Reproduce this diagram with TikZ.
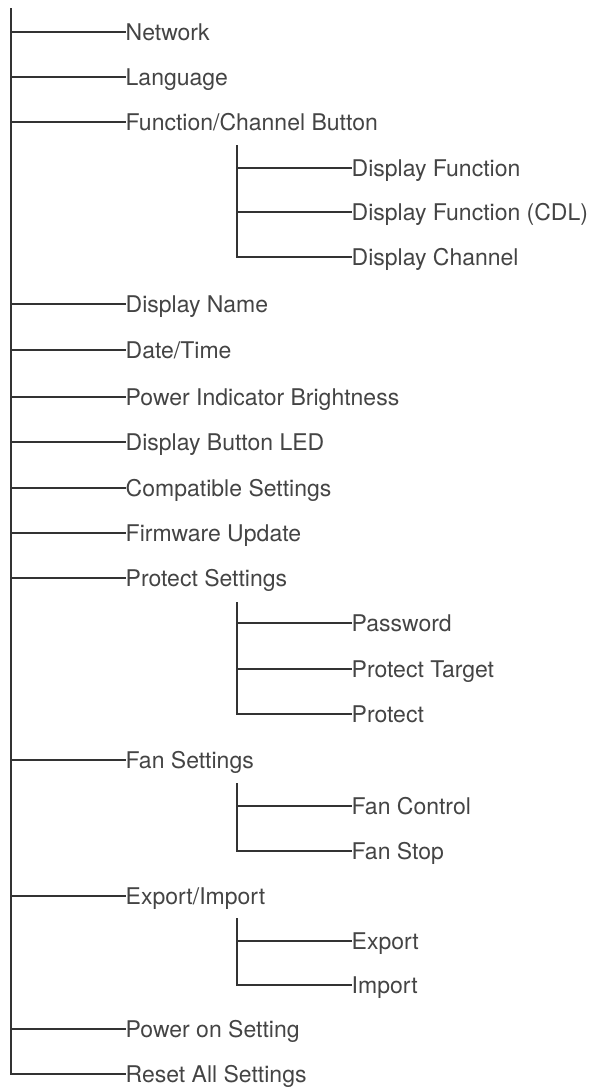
\documentclass[tikz,border=0pt]{standalone}
\usepackage{fontspec}
\setmainfont{TeX Gyre Heros}
\definecolor{ln}{HTML}{333333}
\definecolor{txt}{HTML}{444444}
\tikzset{
  lbl/.style={anchor=west, inner sep=0pt, text height=16.5pt, text depth=0pt,
    text=txt, font=\fontsize{23}{27}\selectfont},
  br/.style={draw=ln, line width=1.2pt}
}
\begin{document}
\begin{tikzpicture}[x=1pt,y=-1pt]
\useasboundingbox (0,0) rectangle (589,1088);
% root trunk
\coordinate (root) at (11,8);
\node[lbl] (network) at (125.5,32) {Network};
\node[lbl] (language) at (125.5,77) {Language};
\node[lbl] (fcb) at (125.5,122) {Function/Channel Button};
\node[lbl] (dname) at (125.5,304) {Display Name};
\node[lbl] (datetime) at (125.5,350) {Date/Time};
\node[lbl] (pib) at (125.5,397) {Power Indicator Brightness};
\node[lbl] (dbl) at (125.5,442) {Display Button LED};
\node[lbl] (compat) at (125.5,488) {Compatible Settings};
\node[lbl] (fw) at (125.5,533) {Firmware Update};
\node[lbl] (protset) at (125.5,578) {Protect Settings};
\node[lbl] (fanset) at (125.5,760) {Fan Settings};
\node[lbl] (expimp) at (125.5,896) {Export/Import};
\node[lbl] (poweron) at (125.5,1029) {Power on Setting};
\node[lbl] (reset) at (125.5,1074) {Reset All Settings};
\foreach \n in {network,language,fcb,dname,datetime,pib,dbl,compat,fw,protset,fanset,expimp,poweron,reset}
  \draw[br] (root) |- (\n.west);
% Function/Channel Button group
\coordinate (fcbsub) at (237,145);
\node[lbl] (dfunc) at (351.5,168) {Display Function};
\node[lbl] (dfcdl) at (351.5,212) {Display Function (CDL)};
\node[lbl] (dchan) at (351.5,257) {Display Channel};
\foreach \n in {dfunc,dfcdl,dchan}
  \draw[br] (fcbsub) |- (\n.west);
% Protect Settings group
\coordinate (protsub) at (237,602);
\node[lbl] (password) at (351.5,623) {Password};
\node[lbl] (ptarget) at (351.5,669) {Protect Target};
\node[lbl] (protect) at (351.5,714) {Protect};
\foreach \n in {password,ptarget,protect}
  \draw[br] (protsub) |- (\n.west);
% Fan Settings group
\coordinate (fansub) at (237,783);
\node[lbl] (fanctl) at (351.5,806) {Fan Control};
\node[lbl] (fanstop) at (351.5,851) {Fan Stop};
\foreach \n in {fanctl,fanstop}
  \draw[br] (fansub) |- (\n.west);
% Export/Import group
\coordinate (expsub) at (237,918);
\node[lbl] (export) at (351.5,941) {Export};
\node[lbl] (import) at (351.5,985) {Import};
\foreach \n in {export,import}
  \draw[br] (expsub) |- (\n.west);
\end{tikzpicture}
\end{document}
